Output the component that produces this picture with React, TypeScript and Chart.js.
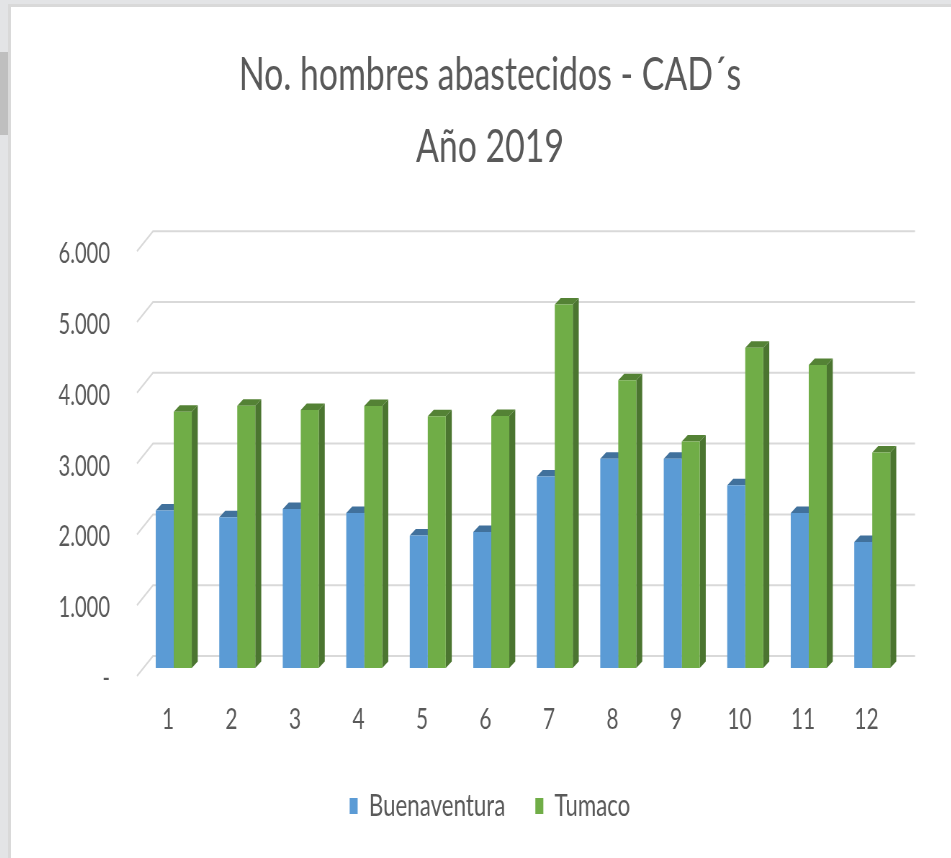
import { useEffect, useRef } from 'react';
import { Chart, registerables } from 'chart.js';

Chart.register(...registerables);

// ---------- data ----------
const months = ['1', '2', '3', '4', '5', '6', '7', '8', '9', '10', '11', '12'];
const buenaventura = [2225, 2130, 2245, 2190, 1870, 1920, 2705, 2955, 2955, 2580, 2190, 1780];
const tumaco = [3620, 3705, 3645, 3700, 3555, 3560, 5135, 4065, 3200, 4525, 4280, 3045];
const yTickValues = [0, 1000, 2000, 3000, 4000, 5000, 6000];
const yTickLabels = ['-', '1.000', '2.000', '3.000', '4.000', '5.000', '6.000'];
const titleLines = ['No. hombres abastecidos - CAD\u00B4s', 'A\u00F1o 2019'];
const seriesNames = ['Buenaventura', 'Tumaco'];

// ---------- layout helpers ----------
const S = 0.72; // horizontal squeeze of the whole picture
const W = Math.round(940 / S);
const H = 851;
const px = (x: number) => (x - 11) / S;
const py = (y: number) => y - 7;

const FONT = 'Lato, "Open Sans", sans-serif';
const TEXT = '#595959';
const frontColors = ['#5b9bd5', '#70ad47'];
const topColors = ['#41719c', '#548235'];
const sideColors = ['#3f6c95', '#4b7530'];

const chartRight = px(904);
const padLeft = 2 * px(490) - chartRight;
const yAxisW = px(142) - padLeft;
const legendFont = 31;
const legendPad = 30 / S;
const legendBottom = py(806) + 10 + legendFont / 2;
const legendTop = legendBottom - (legendFont + legendPad + 10);
const xAxisH = legendTop - py(668);
const titleFont = 47;
const titleLH = 72;
const titlePadTop = py(75) - titleLH / 2;
const titlePadBottom = py(243.2) - titlePadTop - 2 * titleLH;

const poly = (ctx: CanvasRenderingContext2D, pts: number[][]) => {
  ctx.beginPath();
  ctx.moveTo(pts[0][0], pts[0][1]);
  for (let i = 1; i < pts.length; i++) ctx.lineTo(pts[i][0], pts[i][1]);
  ctx.closePath();
  ctx.fill();
};

const threeD = {
  id: 'threeD',
  beforeDatasetsDraw(chart: any) {
    const ctx: CanvasRenderingContext2D = chart.ctx;
    const ys = chart.scales.y;
    ctx.save();
    ctx.strokeStyle = '#d9d9d9';
    ctx.lineWidth = 2;
    yTickValues.forEach((v) => {
      const wy = ys.getPixelForValue(v) - 12;
      ctx.beginPath();
      ctx.moveTo(px(137), wy + 20);
      ctx.lineTo(px(153), wy);
      ctx.lineTo(px(915), wy);
      ctx.stroke();
    });
    const dx = 6 / S;
    const dy = 6.5;
    chart.data.datasets.forEach((_ds: any, di: number) => {
      const meta = chart.getDatasetMeta(di);
      meta.data.forEach((bar: any) => {
        const { x, y, base, width } = bar.getProps(['x', 'y', 'base', 'width'], true);
        const l = x - width / 2;
        const r = x + width / 2;
        ctx.fillStyle = topColors[di];
        poly(ctx, [[l, y], [l + dx, y - dy], [r + dx, y - dy], [r, y]]);
        ctx.fillStyle = sideColors[di];
        poly(ctx, [[r, y], [r + dx, y - dy], [r + dx, base - dy], [r, base]]);
      });
    });
    ctx.restore();
  },
  afterDraw(chart: any) {
    const ctx: CanvasRenderingContext2D = chart.ctx;
    const ys = chart.scales.y;
    ctx.save();
    ctx.fillStyle = TEXT;
    ctx.font = `28px ${FONT}`;
    ctx.textAlign = 'right';
    ctx.textBaseline = 'middle';
    yTickValues.forEach((v, i) => {
      ctx.fillText(yTickLabels[i], px(110), ys.getPixelForValue(v) + 11);
    });
    ctx.restore();
  },
};

export default function App() {
  const ref = useRef<HTMLCanvasElement>(null);
  useEffect(() => {
    document.body.style.margin = '0';
    document.body.style.background = '#e3e4e6';
    document.body.style.overflow = 'hidden';
    const chart = new Chart(ref.current as HTMLCanvasElement, {
      type: 'bar',
      data: {
        labels: months,
        datasets: [
          {
            label: seriesNames[0],
            data: buenaventura,
            backgroundColor: frontColors[0],
            borderWidth: 0,
            categoryPercentage: 0.567,
            barPercentage: 1,
          },
          {
            label: seriesNames[1],
            data: tumaco,
            backgroundColor: frontColors[1],
            borderWidth: 0,
            categoryPercentage: 0.567,
            barPercentage: 1,
          },
        ],
      },
      options: {
        responsive: false,
        animation: false,
        devicePixelRatio: 1,
        layout: { padding: { left: padLeft, right: W - chartRight, top: 0, bottom: H - legendBottom } },
        plugins: {
          title: {
            display: true,
            text: titleLines,
            color: TEXT,
            font: { family: FONT, size: titleFont, weight: 'normal', lineHeight: titleLH / titleFont },
            padding: { top: titlePadTop, bottom: titlePadBottom },
          },
          legend: {
            position: 'bottom',
            labels: {
              color: TEXT,
              font: { family: FONT, size: legendFont },
              boxWidth: 8 / S,
              boxHeight: 16,
              padding: legendPad,
            },
          },
          tooltip: { enabled: false },
        },
        scales: {
          x: {
            grid: { display: false, drawTicks: false },
            border: { display: false },
            ticks: { color: TEXT, font: { family: FONT, size: 29 }, padding: 34, labelOffset: -8 },
            afterFit: (s: any) => {
              s.height = xAxisH;
            },
          },
          y: {
            min: 0,
            max: 6000,
            grid: { display: false, drawTicks: false },
            border: { display: false },
            ticks: { display: false },
            afterFit: (s: any) => {
              s.width = yAxisW;
            },
          },
        },
      },
      plugins: [threeD],
    } as any);
    return () => chart.destroy();
  }, []);

  return (
    <div style={{ position: 'relative', width: 951, height: 858, overflow: 'hidden', background: '#e3e4e6' }}>
      <div style={{ position: 'absolute', left: 0, top: 52, width: 8, height: 83, background: '#bfbfbf' }} />
      <div
        style={{
          position: 'absolute',
          left: 8,
          top: 4,
          right: 0,
          bottom: 0,
          background: '#ffffff',
          borderLeft: '3px solid #d9d9d9',
          borderTop: '3px solid #d9d9d9',
          overflow: 'hidden',
        }}
      >
        <div style={{ width: W, height: H, transform: `scaleX(${S})`, transformOrigin: '0 0' }}>
          <canvas ref={ref} width={W} height={H} style={{ display: 'block' }} />
        </div>
      </div>
    </div>
  );
}
